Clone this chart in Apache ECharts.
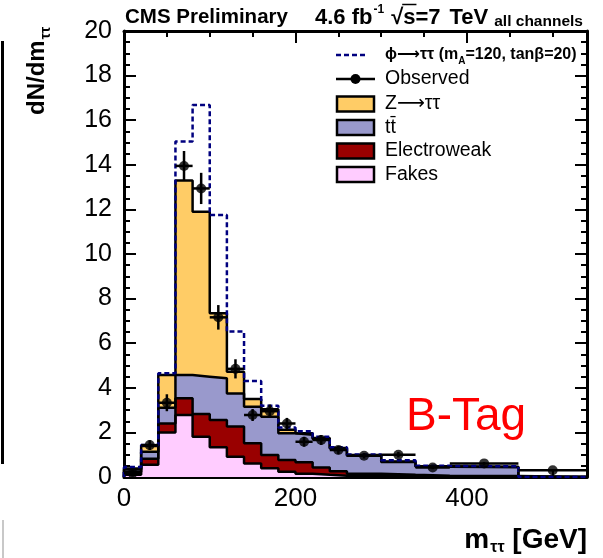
<!DOCTYPE html>
<html><head><meta charset="utf-8">
<script src="https://cdn.jsdelivr.net/npm/echarts@6/dist/echarts.min.js"></script>
<style>html,body{margin:0;padding:0;background:#fff}#c{width:603px;height:558px}</style>
</head><body><div id="c"></div>
<script>
// ---- data ----
const binEdges    = [0,20,40,60,80,100,120,140,160,180,200,220,240,260,300,340,380,460,540];
const fakes       = [0.10,0.55,1.99,2.78,1.81,1.33,0.91,0.61,0.39,0.24,0.15,0.10,0.06,0.04,0.03,0.02,0.01,0];
const electroweak = [0.12,0.27,0.41,0.75,1.02,1.23,1.35,0.90,0.60,0.52,0.51,0.33,0.20,0.11,0.07,0.04,0.03,0];
const ttbar       = [0.12,0.31,0.70,1.04,1.67,1.87,1.49,1.64,1.71,1.20,1.24,1.27,1.02,0.80,0.57,0.40,0.40,0];
const ztautau     = [0.04,0.26,1.47,8.73,7.40,2.91,0.97,0.35,0.34,0.16,0.06,0.05,0.02,0.04,0.02,0.02,0.02,0];
const signalTotal = [0.45,1.43,4.65,15.04,16.68,11.75,6.52,4.30,3.20,2.22,2.05,1.80,1.33,1.01,0.75,0.50,0.48,0];
const observed    = [0.17,1.43,3.33,13.95,12.94,7.16,4.85,2.78,2.95,2.40,1.58,1.66,1.21,0.95,1.00,0.43,0.61,0.30];
const observedErr = [0.15,0.22,0.38,0.67,0.70,0.55,0.43,0.27,0.30,0.25,0.22,0.22,0.18,0.12,0.12,0.08,0.06,0.05];
const xTickLabels = [0,200,400];
const yTickLabels = [0,2,4,6,8,10,12,14,16,18,20];
const xRange = [0,540];
const yRange = [0,20];

// ---- helpers ----
const FONT = '"Liberation Sans", Arial, "DejaVu Sans", sans-serif';
function addArr(a,b){return a.map((v,i)=>v+b[i]);}
const cumFakes = fakes.slice();
const cumEW = addArr(cumFakes, electroweak);
const cumTT = addArr(cumEW, ttbar);
const cumZ = addArr(cumTT, ztautau);
function stepData(vals){
  const d=[[binEdges[0],0]];
  vals.forEach((v,i)=>{d.push([binEdges[i],v]);d.push([binEdges[i+1],v]);});
  d.push([binEdges[binEdges.length-1],0]);
  return d;
}
function histSeries(name, vals, color){
  return {name, type:'line', xAxisIndex:0, yAxisIndex:0, data:stepData(vals), symbol:'none', showSymbol:false,
    lineStyle:{color:'#000', width:2.5}, areaStyle:{color, opacity:1, origin:'start'}, itemStyle:{color},
    silent:true, z:2, clip:true};
}
const cv=document.createElement('canvas').getContext('2d');
function tw(t,f){cv.font=f;return cv.measureText(t).width;}

const colZ='#ffcc66', colTT='#9999cc', colEW='#990000', colFk='#ffccff', colSig='#00007f';

const tickStyle={color:'#000', width:2};
const lineSt={color:'#000', width:3};
function xAx(pos, interval, len, withLine, labels){
  return {type:'value', min:xRange[0], max:xRange[1], interval, position:pos,
    axisLine:{show:withLine, onZero:false, lineStyle:lineSt},
    axisTick:{show:true, inside:true, length:len, lineStyle:tickStyle},
    axisLabel:labels?{show:true, color:'#000', fontSize:26, fontFamily:FONT, margin:9, showMaxLabel:false,
      formatter:v=>xTickLabels.includes(v)?String(v):''}:{show:false},
    splitLine:{show:false}};
}
function yAx(pos, labels){
  return {type:'value', min:yRange[0], max:yRange[1], interval:2, position:pos,
    axisLine:{show:true, onZero:false, lineStyle:lineSt},
    axisTick:{show:true, inside:true, length:12, lineStyle:tickStyle},
    minorTick:{show:true, splitNumber:4, length:6, lineStyle:tickStyle},
    axisLabel:labels?{show:true, color:'#000', fontSize:25, fontFamily:FONT, margin:12,
      formatter:v=>yTickLabels.includes(v)?String(v):''}:{show:false},
    splitLine:{show:false}, minorSplitLine:{show:false}};
}

// ---- graphic texts ----
const g=[];
// left-edge artifacts
g.push({type:'line', shape:{x1:2.5,y1:41,x2:2.5,y2:464}, style:{stroke:'#000', lineWidth:3}, silent:true});
g.push({type:'line', shape:{x1:3,y1:520,x2:3,y2:558}, style:{stroke:'#c8c8c8', lineWidth:2}, silent:true});
// header
g.push({type:'text', x:125, y:17.5, style:{text:'CMS Preliminary', font:'bold 20.5px '+FONT, fill:'#000', verticalAlign:'middle'}});
(function(){
  const fM='bold 22px '+FONT, fS='bold 12px '+FONT;
  let x=315;
  g.push({type:'text', x, y:17.5, style:{text:'4.6 fb', font:fM, fill:'#000', verticalAlign:'middle'}});
  x+=tw('4.6 fb',fM)+1;
  g.push({type:'text', x, y:10, style:{text:'-1', font:fS, fill:'#000', verticalAlign:'middle'}});
  const xs=x+tw('-1',fS)+7;
  g.push({type:'text', x:xs, y:17.5, style:{text:'√', font:fM, fill:'#000', verticalAlign:'middle'}});
  const xr=xs+tw('√',fM);
  g.push({type:'text', x:xr, y:17.5, style:{text:'s=7', font:fM, fill:'#000', verticalAlign:'middle'}});
  g.push({type:'line', shape:{x1:xr-1,y1:4.5,x2:xr+tw('s',fM)+1,y2:4.5}, style:{stroke:'#000', lineWidth:1.5}});
  const xt=xr+tw('s=7',fM)+9;
  g.push({type:'text', x:xt, y:17.5, style:{text:'TeV', font:fM, fill:'#000', verticalAlign:'middle'}});
  const xc=xt+tw('TeV',fM)+6;
  g.push({type:'text', x:xc, y:22, style:{text:'all channels', font:'bold 15.5px '+FONT, fill:'#000', verticalAlign:'middle'}});
})();
// y title (rotated)
(function(){
  const fM='bold 24px '+FONT, fS='bold 14px '+FONT;
  const w=tw('dN/dm',fM);
  g.push({type:'text', x:37, y:115, rotation:Math.PI/2, style:{text:'dN/dm', font:fM, fill:'#000', align:'left', verticalAlign:'middle'}});
  g.push({type:'text', x:46, y:115-w-1, rotation:Math.PI/2, style:{text:'ττ', font:fS, fill:'#000', align:'left', verticalAlign:'middle'}});
})();
// x title
(function(){
  const fM='bold 28px '+FONT, fS='bold 16px '+FONT;
  const w1=tw('m',fM), w2=tw('ττ',fS), w3=tw(' [GeV]',fM);
  let x=587-(w1+w2+w3+1);
  g.push({type:'text', x, y:540, style:{text:'m', font:fM, fill:'#000', verticalAlign:'middle'}});
  x+=w1+1;
  g.push({type:'text', x, y:548, style:{text:'ττ', font:fS, fill:'#000', verticalAlign:'middle'}});
  x+=w2;
  g.push({type:'text', x, y:540, style:{text:' [GeV]', font:fM, fill:'#000', verticalAlign:'middle'}});
})();
// B-Tag
g.push({type:'text', x:406, y:417, style:{text:'B-Tag', font:'46px '+FONT, fill:'#ff0000', verticalAlign:'middle'}});
// legend
(function(){
  const bx=336, bw=39, tx=385;
  g.push({type:'line', shape:{x1:bx,y1:55,x2:bx+32,y2:55}, style:{stroke:colSig, lineWidth:2.5, lineDash:[5,3]}});
  const fL='bold 16px '+FONT, fLs='bold 10px '+FONT;
  const a='ϕ⟶ττ (m';
  g.push({type:'text', x:tx, y:55, style:{text:a, font:fL, fill:'#000', verticalAlign:'middle'}});
  const xa=tx+tw(a,fL);
  g.push({type:'text', x:xa, y:61, style:{text:'A', font:fLs, fill:'#000', verticalAlign:'middle'}});
  g.push({type:'text', x:xa+tw('A',fLs), y:55, style:{text:'=120, tanβ=20)', font:fL, fill:'#000', verticalAlign:'middle'}});
  g.push({type:'line', shape:{x1:bx,y1:79,x2:bx+bw,y2:79}, style:{stroke:'#000', lineWidth:2.5}});
  g.push({type:'circle', shape:{cx:bx+bw/2,cy:79,r:5}, style:{fill:'#000'}});
  const fT='19.5px '+FONT;
  g.push({type:'text', x:tx, y:79, style:{text:'Observed', font:fT, fill:'#000', verticalAlign:'middle'}});
  const boxes=[[colZ,'Z⟶ττ',104],[colTT,'tt\u0304',127.5],[colEW,'Electroweak',151],[colFk,'Fakes',174.5]];
  boxes.forEach(([c,t,y])=>{
    g.push({type:'rect', shape:{x:bx+1,y:y-7.5,width:bw-2,height:15}, style:{fill:c, stroke:'#000', lineWidth:2.5}});
    g.push({type:'text', x:tx, y, style:{text:t, font:fT, fill:'#000', verticalAlign:'middle'}});
  });
})();

const centers = observed.map((v,i)=>(binEdges[i]+binEdges[i+1])/2);

const option = {
  animation:false,
  backgroundColor:'#fff',
  grid:{left:124, right:16, top:31, bottom:81, containLabel:false},
  xAxis:[ xAx('bottom',200,12,true,true), xAx('bottom',50,6,false,false), xAx('top',200,12,true,false), xAx('top',50,6,false,false) ],
  yAxis:[ yAx('left',true), yAx('right',false) ],
  series:[
    histSeries('Z→ττ', cumZ, colZ),
    histSeries('tt̄', cumTT, colTT),
    histSeries('Electroweak', cumEW, colEW),
    histSeries('Fakes', cumFakes, colFk),
    {name:'φ→ττ', type:'line', data:stepData(signalTotal), symbol:'none', showSymbol:false, silent:true, z:3,
      lineStyle:{color:colSig, width:2.5, type:[5,3]}},
    {name:'Observed err', type:'custom', z:4, silent:true,
      data:observed.map((v,i)=>[centers[i], v, observedErr[i], binEdges[i], binEdges[i+1]]),
      encode:{x:0, y:1},
      renderItem:(params, api)=>{
        const x=api.value(0), y=api.value(1), e=api.value(2), lo=api.value(3), hi=api.value(4);
        const p1=api.coord([x,y-e]), p2=api.coord([x,y+e]), p3=api.coord([lo,y]), p4=api.coord([hi,y]);
        return {type:'group', children:[
          {type:'line', shape:{x1:p1[0],y1:p1[1],x2:p2[0],y2:p2[1]}, style:{stroke:'#000', lineWidth:2.5}},
          {type:'line', shape:{x1:p3[0],y1:p3[1],x2:p4[0],y2:p4[1]}, style:{stroke:'#000', lineWidth:2.5}}
        ]};
      }},
    {name:'Observed', type:'scatter', z:5, silent:true, symbol:'circle', symbolSize:10,
      itemStyle:{color:'#000'}, data:observed.map((v,i)=>[centers[i], v])}
  ],
  graphic:{elements:g}
};
const chart = echarts.init(document.getElementById('c'), null, {renderer:'canvas'});
chart.setOption(option);
</script></body></html>
